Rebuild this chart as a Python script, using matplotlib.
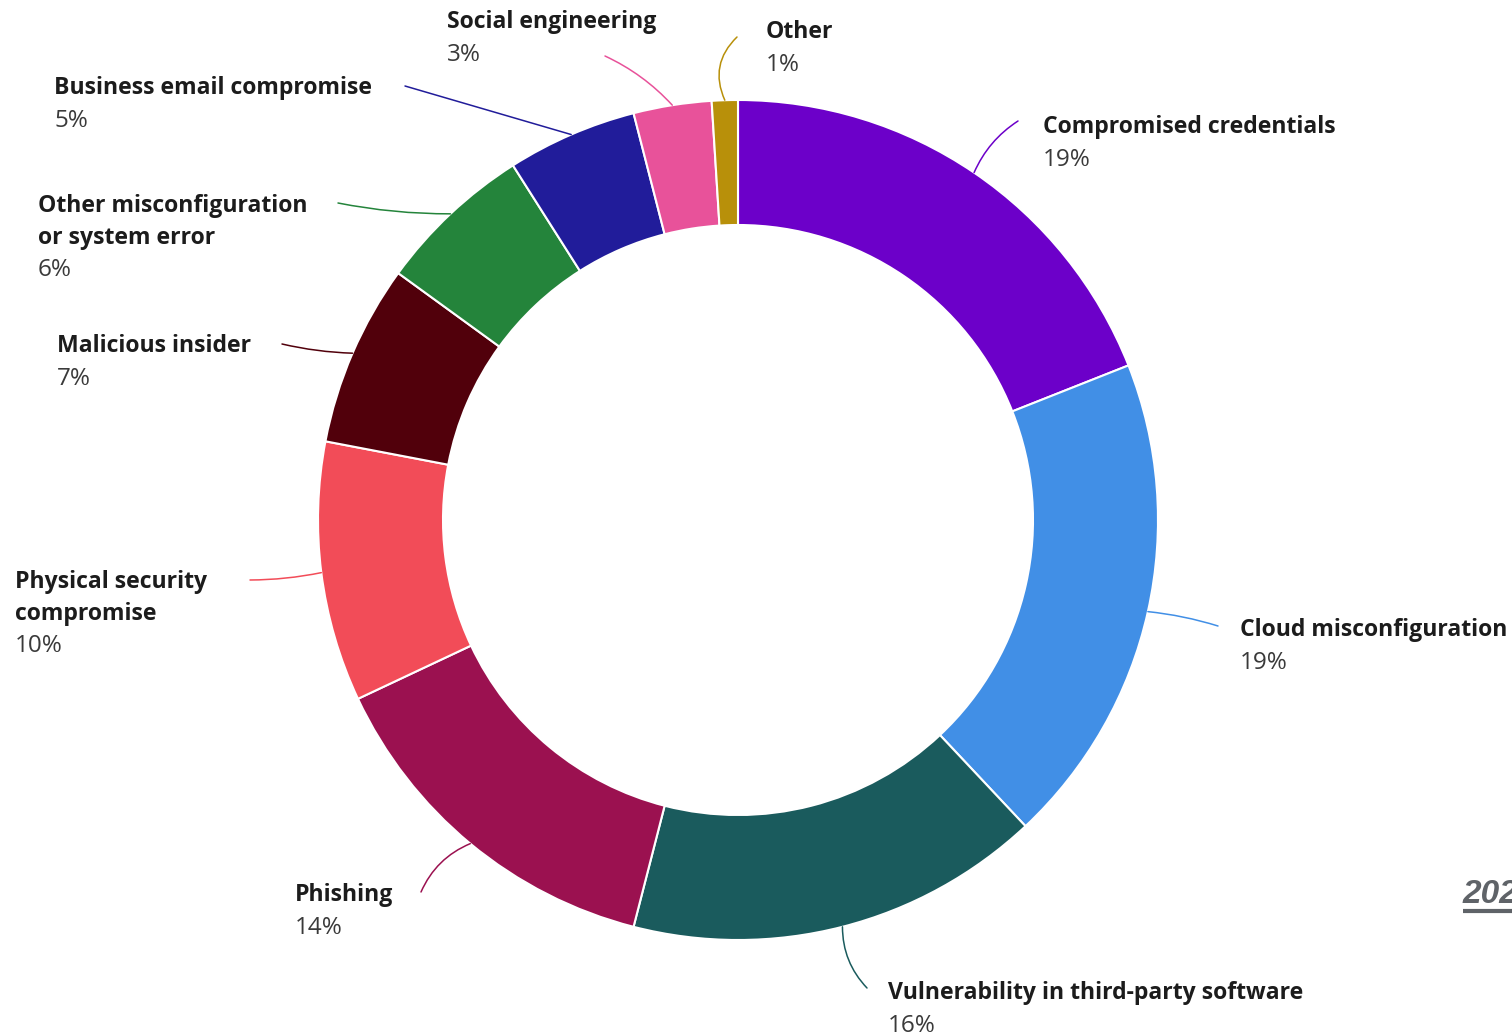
import matplotlib
matplotlib.use("Agg")
import matplotlib.pyplot as plt
import numpy as np

categories = ["Compromised credentials", "Cloud misconfiguration",
              "Vulnerability in third-party software", "Phishing",
              "Physical security\ncompromise", "Malicious insider",
              "Other misconfiguration\nor system error",
              "Business email compromise", "Social engineering", "Other"]
values = [19, 19, 16, 14, 10, 7, 6, 5, 3, 1]
colors = ["#6c00c9", "#418fe6", "#1a5b5d", "#9b1150", "#f24c58",
          "#51000b", "#24843b", "#211c9a", "#e8529a", "#b8900a"]

# label layout (pixel coords: left x, first-line baseline y) and leader-line ends
label_x = [1043, 1240, 888, 295, 15, 57, 38, 54, 447, 766]
label_y = [133, 636, 999, 901, 588, 352, 212, 94, 28, 38]
line_end = [(1018, 121), (1218, 626), (867, 988), (421, 892), (250, 580),
            (282, 344), (338, 203), (405, 86), (605, 56), (737, 37)]
line_rad = [0.15, 0.05, -0.2, -0.2, 0.05, 0.05, 0.05, 0.0, -0.1, 0.35]

W, H = 1512, 1035
fig = plt.figure(figsize=(W / 100, H / 100), dpi=100)
ax = fig.add_axes([0, 0, 1, 1])

cx, cy, R, width = 738, 520, 420, 125

def P(x, y):
    return (x, H - y)

wedges, _ = ax.pie(values, colors=colors, startangle=90, counterclock=False,
                   center=P(cx, cy), radius=R,
                   wedgeprops=dict(width=width, edgecolor="white", linewidth=1.5))
ax.set_xlim(0, W)
ax.set_ylim(0, H)
ax.set_aspect("equal")
ax.axis("off")

fam = ["Open Sans", "DejaVu Sans"]
total = sum(values)
cum = 0
for i, v in enumerate(values):
    mid = (cum + v / 2) / total * 360
    cum += v
    th = np.deg2rad(mid)
    sx, sy = cx + R * np.sin(th), cy - R * np.cos(th)
    ex, ey = line_end[i]
    ax.annotate("", xy=P(sx, sy), xytext=P(ex, ey),
                arrowprops=dict(arrowstyle="-", color=colors[i], lw=1.1,
                                shrinkA=0, shrinkB=0,
                                connectionstyle=f"arc3,rad={line_rad[i]}"))
    lines = categories[i].split("\n")
    x0, y0 = label_x[i], label_y[i]
    for k, ln in enumerate(lines):
        ax.text(*P(x0, y0 + 31.5 * k), ln, fontsize=16.6, fontweight="bold",
                family=fam, color="#1c1c1c", va="baseline", ha="left")
    ax.text(*P(x0, y0 + 31.5 * (len(lines) - 1) + 33), f"{v}%", fontsize=17.5,
            family=fam, color="#3a3a3a", va="baseline", ha="left")

ax.text(*P(1463, 903), "2024", fontsize=24, fontweight="bold", style="italic",
        family=["Liberation Sans", "DejaVu Sans"], color="#5f6368",
        va="baseline", ha="left")
ax.plot([1463, W], [H - 911, H - 911], color="#5f6368", lw=3, solid_capstyle="butt")

fig.savefig("out.png", dpi=100, facecolor="white")
